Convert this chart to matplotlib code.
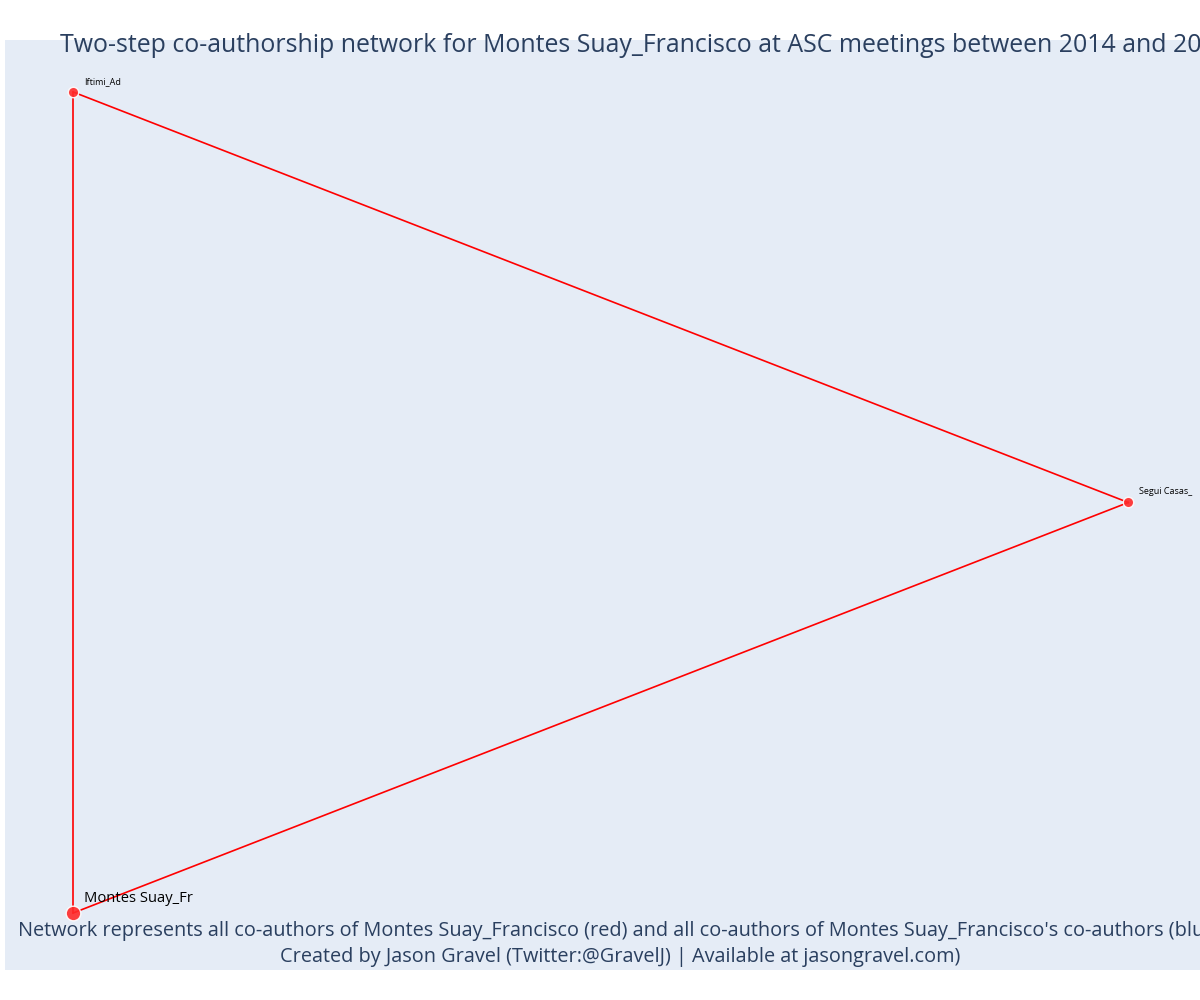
import matplotlib.pyplot as plt

# node positions (layout coordinates) and labels
names = ['Montes Suay_Fr', 'Iftimi_Ad', 'Segui Casas_']
node_x = [0.0, 0.0, 1.0]
node_y = [0.0, 1.0, 0.5]
node_size = [14, 10, 10]
label_size = [10.6, 6.5, 6.5]
edges = [(0, 1), (1, 2), (2, 0)]

title = 'Two-step co-authorship network for Montes Suay_Francisco at ASC meetings between 2014 and 2019'
note1 = "Network represents all co-authors of Montes Suay_Francisco (red) and all co-authors of Montes Suay_Francisco's co-authors (blue)"
note2 = 'Created by Jason Gravel (Twitter:@GravelJ) | Available at jasongravel.com)'

fig = plt.figure(figsize=(12, 10), dpi=100)
ax = fig.add_axes([5/1200, 0.03, 1 - 5/1200, 0.93])
ax.set_facecolor('#e5ecf6')
for a, b in edges:
    ax.plot([node_x[a], node_x[b]], [node_y[a], node_y[b]], color='red', lw=1.2, zorder=1)
for i in range(len(names)):
    ax.plot(node_x[i], node_y[i], 'o', ms=node_size[i] * 0.75, color='#ff2a2a', alpha=0.9,
            mec='white', mew=1, zorder=2)
    ax.annotate(names[i], (node_x[i], node_y[i]), xytext=(8, 8 if i == 0 else 6),
                textcoords='offset points', fontsize=label_size[i], color='black',
                family='Open Sans', annotation_clip=False)
ax.set_xlim(-0.0645, 1.068)
ax.set_ylim(-0.0694, 1.0633)
ax.set_xticks([])
ax.set_yticks([])
for s in ax.spines.values():
    s.set_visible(False)

# texts run past the right edge in the original too
fig.text(60/1200, 1 - 45/1000, title, fontsize=17.9, color='#2a3f5f', va='center', family='Open Sans')
fig.text(620/1200, 1 - 931/1000, note1, fontsize=14.3, color='#2a3f5f', ha='center', va='center', family='Open Sans')
fig.text(620/1200, 1 - 957/1000, note2, fontsize=14.3, color='#2a3f5f', ha='center', va='center', family='Open Sans')
fig.savefig('out.png')
